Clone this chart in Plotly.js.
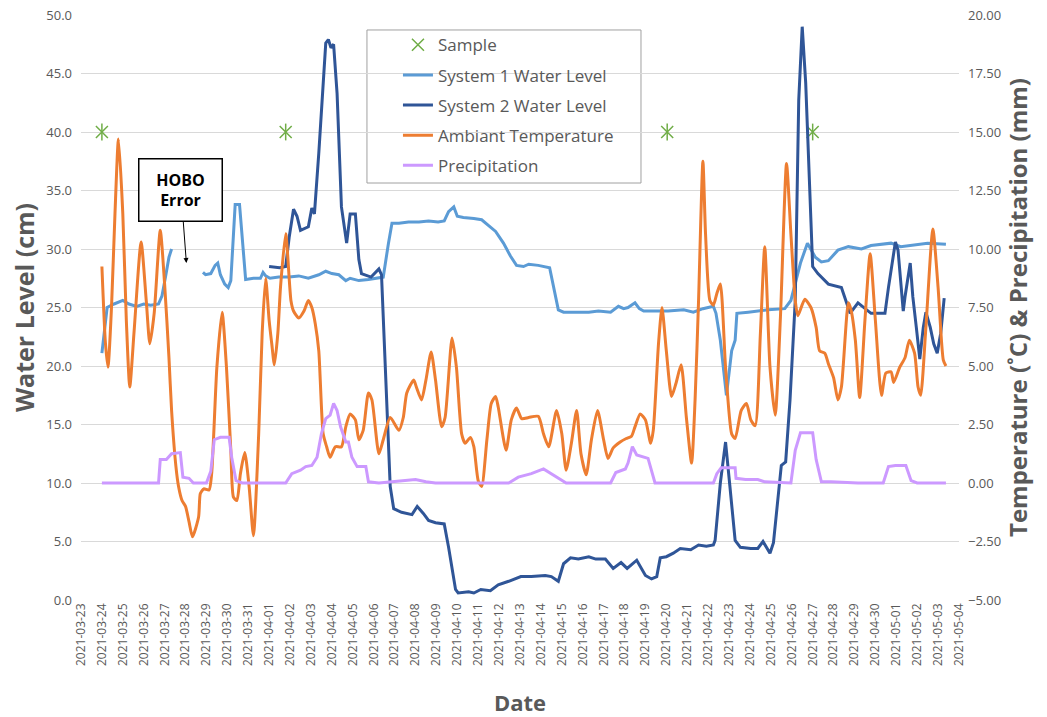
<!DOCTYPE html>
<html>
<head>
<meta charset="utf-8">
<script src="https://cdn.plot.ly/plotly-3.0.1.min.js"></script>
<style>html,body{margin:0;padding:0;background:#fff;}#chart{width:1047px;height:717px;}</style>
</head>
<body>
<div id="chart"></div>
<script>
// Sample events (left axis, cm)
const sampleTime = ['2021-03-24 00','2021-04-01 19','2021-04-20 01','2021-04-27 00'];
const sampleLevel = [40, 40, 40, 40];

// System 1 water level (cm); null = HOBO error gap
const s1Time = ['2021-03-24 00','2021-03-24 06','2021-03-24 14','2021-03-25 00','2021-03-25 07','2021-03-25 16','2021-03-26 00','2021-03-26 08','2021-03-26 17','2021-03-26 21','2021-03-27 01','2021-03-27 05','2021-03-27 08',
'2021-03-28 00',
'2021-03-28 20','2021-03-28 23','2021-03-29 05','2021-03-29 10','2021-03-29 13','2021-03-29 16','2021-03-29 21','2021-03-30 01','2021-03-30 04','2021-03-30 06','2021-03-30 09','2021-03-30 14','2021-03-30 18','2021-03-30 21','2021-03-31 06','2021-03-31 14','2021-03-31 17','2021-03-31 20',
'2021-04-01 01','2021-04-01 11','2021-04-01 23','2021-04-02 10','2021-04-02 21','2021-04-03 09','2021-04-03 17','2021-04-04 00','2021-04-04 08','2021-04-04 16','2021-04-04 21','2021-04-05 07','2021-04-05 18','2021-04-06 06','2021-04-06 11','2021-04-06 17','2021-04-06 21',
'2021-04-07 05','2021-04-07 16','2021-04-08 04','2021-04-08 15','2021-04-09 02','2021-04-09 09','2021-04-09 14','2021-04-09 20','2021-04-10 00','2021-04-10 07','2021-04-10 19','2021-04-11 04','2021-04-11 12','2021-04-11 20','2021-04-12 05','2021-04-12 13','2021-04-12 20','2021-04-13 04','2021-04-13 10','2021-04-13 21','2021-04-14 10','2021-04-14 14','2021-04-14 20',
'2021-04-15 02','2021-04-15 13','2021-04-16 07','2021-04-16 18','2021-04-17 08','2021-04-17 17','2021-04-17 23','2021-04-18 04','2021-04-18 12','2021-04-18 17','2021-04-18 22','2021-04-19 09','2021-04-20 02','2021-04-20 20','2021-04-21 07','2021-04-21 18','2021-04-22 06','2021-04-22 09','2021-04-22 14','2021-04-22 21','2021-04-23 03','2021-04-23 07','2021-04-23 09','2021-04-23 22','2021-04-24 21','2021-04-25 16','2021-04-25 23',
'2021-04-26 10','2021-04-26 18','2021-04-27 03','2021-04-27 10','2021-04-27 18','2021-04-28 05','2021-04-28 17','2021-04-29 08','2021-04-29 19','2021-04-30 18','2021-05-01 05','2021-05-02 04','2021-05-02 12','2021-05-03 09'];
const s1Level = [21.1,25.0,25.3,25.6,25.3,25.1,25.3,25.2,25.3,26.0,27.6,29.3,30.0,
null,
28.0,27.8,27.9,28.6,28.8,27.8,27.0,26.7,27.3,30.0,33.8,33.8,30.0,27.4,27.5,27.5,28.0,27.7,
27.5,27.6,27.6,27.7,27.5,27.8,28.1,27.9,27.8,27.3,27.5,27.3,27.4,27.5,27.6,30.5,32.2,
32.2,32.3,32.3,32.4,32.3,32.4,33.2,33.6,32.8,32.7,32.6,32.5,32.0,31.5,30.5,29.4,28.6,28.5,28.7,28.6,28.4,27.0,24.8,
24.6,24.6,24.6,24.7,24.6,25.1,24.9,25.0,25.4,24.9,24.7,24.7,24.7,24.8,24.6,24.9,25.1,24.5,22.2,17.5,21.3,22.2,24.5,24.6,24.8,24.9,25.6,
28.8,30.5,29.3,28.9,29.0,29.9,30.2,30.0,30.3,30.5,30.2,30.4,30.5,30.4];

// System 2 water level (cm)
const s2Time = ['2021-04-01 00','2021-04-01 12','2021-04-01 19','2021-04-01 23','2021-04-02 04','2021-04-02 08','2021-04-02 12','2021-04-02 17','2021-04-02 21','2021-04-03 01','2021-04-03 04','2021-04-03 09','2021-04-03 12','2021-04-03 17','2021-04-03 20','2021-04-03 23','2021-04-04 02','2021-04-04 06','2021-04-04 11','2021-04-04 17','2021-04-04 21','2021-04-05 03','2021-04-05 07','2021-04-05 10','2021-04-05 21','2021-04-06 06','2021-04-06 09','2021-04-06 15','2021-04-06 19','2021-04-06 23',
'2021-04-07 08','2021-04-07 20','2021-04-08 02','2021-04-08 09','2021-04-08 15','2021-04-08 23','2021-04-09 09','2021-04-09 14','2021-04-09 22','2021-04-10 01','2021-04-10 13','2021-04-10 19','2021-04-11 03','2021-04-11 14','2021-04-11 23','2021-04-12 11','2021-04-13 01','2021-04-13 13','2021-04-14 05','2021-04-14 12','2021-04-14 20',
'2021-04-15 02','2021-04-15 10','2021-04-15 19','2021-04-16 07','2021-04-16 15','2021-04-17 02','2021-04-17 11','2021-04-17 20','2021-04-18 03','2021-04-18 14','2021-04-19 00','2021-04-19 07','2021-04-19 13','2021-04-19 17','2021-04-20 00','2021-04-20 08','2021-04-20 16','2021-04-21 04','2021-04-21 13','2021-04-21 22','2021-04-22 06','2021-04-22 08','2021-04-22 14','2021-04-22 20','2021-04-23 01','2021-04-23 07','2021-04-23 13','2021-04-24 01','2021-04-24 09','2021-04-24 15','2021-04-24 23','2021-04-25 03','2021-04-25 12','2021-04-25 17','2021-04-25 22',
'2021-04-26 04','2021-04-26 08','2021-04-26 12','2021-04-26 16','2021-04-27 00','2021-04-27 06','2021-04-27 18','2021-04-28 09','2021-04-28 15','2021-04-28 19','2021-04-29 04','2021-04-29 12','2021-04-29 19','2021-04-30 11','2021-04-30 15','2021-04-30 23','2021-05-01 02','2021-05-01 08','2021-05-01 10','2021-05-01 16','2021-05-01 19','2021-05-01 23','2021-05-02 03','2021-05-02 07','2021-05-02 10','2021-05-02 15','2021-05-02 19','2021-05-02 23','2021-05-03 03','2021-05-03 07'];
const s2Level = [28.5,28.4,28.5,31.0,33.4,32.8,31.6,31.8,31.9,33.5,33.0,38.2,41.6,47.6,47.9,47.2,47.5,43.3,33.6,30.5,33.0,33.0,29.1,27.9,27.6,28.3,27.8,17.1,9.7,7.8,
7.5,7.3,8.0,7.4,6.8,6.6,6.5,4.5,0.9,0.6,0.7,0.6,0.9,0.8,1.3,1.6,2.0,2.0,2.1,2.0,1.6,
3.1,3.6,3.5,3.7,3.5,3.5,2.7,3.2,2.7,3.4,2.1,1.8,2.0,3.6,3.7,4.0,4.4,4.3,4.7,4.6,4.7,5.1,10.0,13.5,9.7,5.1,4.5,4.4,4.4,5.0,4.0,4.9,11.5,11.8,17.1,
25.6,42.7,49.0,44.2,28.5,27.9,27.0,26.7,25.3,24.5,25.4,24.9,24.5,24.5,26.7,30.6,29.9,24.7,25.9,28.8,25.9,23.3,20.6,23.3,24.6,23.3,21.9,21.1,22.8,25.8];

// Ambient temperature (°C, right axis)
const tempTime = ['2021-03-24 00','2021-03-24 04','2021-03-24 07','2021-03-24 11','2021-03-24 15','2021-03-24 19','2021-03-25 00','2021-03-25 04','2021-03-25 08','2021-03-25 13','2021-03-25 21','2021-03-26 03','2021-03-26 07','2021-03-26 12','2021-03-26 19','2021-03-27 00','2021-03-27 05','2021-03-27 08','2021-03-27 13','2021-03-27 16','2021-03-27 20',
'2021-03-28 00','2021-03-28 04','2021-03-28 08','2021-03-28 15','2021-03-28 17','2021-03-28 21','2021-03-29 03','2021-03-29 06','2021-03-29 12','2021-03-29 18','2021-03-29 23','2021-03-30 04','2021-03-30 07','2021-03-30 11','2021-03-30 15','2021-03-30 20','2021-03-31 01','2021-03-31 06','2021-03-31 12','2021-03-31 16','2021-03-31 20',
'2021-04-01 00','2021-04-01 03','2021-04-01 06','2021-04-01 10','2021-04-01 13','2021-04-01 19','2021-04-02 01','2021-04-02 04','2021-04-02 10','2021-04-02 16','2021-04-02 21','2021-04-03 01','2021-04-03 05','2021-04-03 09','2021-04-03 14','2021-04-03 18','2021-04-03 22','2021-04-04 04','2021-04-04 11','2021-04-04 16','2021-04-04 21','2021-04-05 03','2021-04-05 07','2021-04-05 12','2021-04-05 18','2021-04-05 22','2021-04-06 06','2021-04-06 11','2021-04-06 19',
'2021-04-07 05','2021-04-07 10','2021-04-07 14','2021-04-07 22','2021-04-08 01','2021-04-08 07','2021-04-08 12','2021-04-08 18','2021-04-08 23','2021-04-09 06','2021-04-09 10','2021-04-09 18','2021-04-09 23','2021-04-10 05','2021-04-10 09','2021-04-10 15','2021-04-10 19','2021-04-11 00','2021-04-11 04','2021-04-11 10','2021-04-11 15','2021-04-11 20','2021-04-11 23','2021-04-12 08','2021-04-12 14','2021-04-12 20','2021-04-13 02','2021-04-13 10','2021-04-13 21','2021-04-14 03','2021-04-14 09','2021-04-14 18',
'2021-04-15 00','2021-04-15 05','2021-04-15 11','2021-04-15 17','2021-04-15 22','2021-04-16 04','2021-04-16 10','2021-04-16 17','2021-04-17 00','2021-04-17 05','2021-04-17 11','2021-04-17 19','2021-04-18 02','2021-04-18 08','2021-04-18 12','2021-04-18 18','2021-04-19 00','2021-04-19 06','2021-04-19 09','2021-04-19 15','2021-04-19 19','2021-04-20 00','2021-04-20 06','2021-04-20 11','2021-04-20 17','2021-04-20 23','2021-04-21 05','2021-04-21 09','2021-04-21 13','2021-04-21 18','2021-04-21 21',
'2021-04-22 02','2021-04-22 06','2021-04-22 10','2021-04-22 14','2021-04-22 20','2021-04-23 03','2021-04-23 07','2021-04-23 14','2021-04-23 20','2021-04-24 01','2021-04-24 06','2021-04-24 12','2021-04-24 17','2021-04-24 23','2021-04-25 05','2021-04-25 11','2021-04-25 18','2021-04-25 23','2021-04-26 04','2021-04-26 07','2021-04-26 15','2021-04-26 22','2021-04-27 04','2021-04-27 08','2021-04-27 14','2021-04-27 18',
'2021-04-28 00','2021-04-28 05','2021-04-28 09','2021-04-28 17','2021-04-28 20','2021-04-29 01','2021-04-29 06','2021-04-29 12','2021-04-29 18','2021-04-30 00','2021-04-30 07','2021-04-30 12','2021-04-30 18','2021-04-30 21','2021-05-01 04','2021-05-01 10','2021-05-01 15','2021-05-01 21','2021-05-02 01','2021-05-02 04','2021-05-02 10','2021-05-02 18','2021-05-03 00','2021-05-03 06','2021-05-03 09'];
const tempValue = [9.25,6.0,4.95,7.5,11.5,14.7,11.5,7.0,4.1,6.5,10.3,7.75,5.95,7.25,10.8,8.5,5.35,3.1,0.7,-0.15,-0.75,
-1.0,-1.65,-2.3,-1.45,-0.45,-0.25,-0.3,0.4,4.95,7.3,4.95,1.4,-0.6,-0.75,0.4,1.3,-0.15,-2.25,2.1,6.4,8.75,
6.95,5.95,5.05,6.4,8.35,10.65,7.8,7.35,7.05,7.35,7.8,7.5,6.8,5.65,2.1,1.55,1.1,1.55,1.55,2.4,2.95,2.7,1.85,2.25,3.85,3.55,1.25,1.85,2.8,
2.25,2.8,3.85,4.4,4.1,3.55,4.4,5.6,4.4,2.4,2.8,6.2,4.95,2.1,1.7,1.95,1.55,0.1,-0.15,1.85,3.4,3.7,3.25,1.4,2.7,3.2,2.75,2.8,2.85,2.1,1.55,3.1,
2.1,0.55,1.7,3.1,1.25,0.35,1.85,3.1,1.85,1.05,1.5,1.75,1.9,2.0,2.4,2.95,2.7,1.7,2.25,5.95,7.5,5.65,3.7,4.25,5.05,2.8,0.85,3.55,7.8,13.75,10.65,
7.8,7.6,8.1,8.5,4.95,2.1,1.9,3.1,3.4,2.7,2.45,6.4,10.1,4.95,2.9,7.1,13.65,10.65,7.8,7.15,7.85,7.5,6.65,5.65,5.55,5.1,
4.5,3.55,4.1,7.7,7.4,6.1,3.65,6.95,9.8,6.95,3.75,4.7,4.75,4.3,4.95,5.35,6.1,5.55,4.1,3.75,6.65,10.85,8.35,5.25,5.0];

// Precipitation (mm, right axis)
const precipTime = ['2021-03-24 00','2021-03-26 17','2021-03-26 19','2021-03-27 02','2021-03-27 08','2021-03-27 18','2021-03-27 21','2021-03-28 04','2021-03-28 09','2021-03-29 00','2021-03-29 05','2021-03-29 09','2021-03-29 16','2021-03-30 02','2021-03-30 05','2021-03-30 10','2021-03-30 17',
'2021-04-01 19','2021-04-02 02','2021-04-02 12','2021-04-02 18','2021-04-03 01','2021-04-03 07','2021-04-03 12','2021-04-03 17','2021-04-03 22','2021-04-04 02','2021-04-04 06','2021-04-04 10','2021-04-04 16','2021-04-04 19','2021-04-04 23','2021-04-05 05','2021-04-05 15','2021-04-05 18','2021-04-06 06','2021-04-08 00','2021-04-08 12','2021-04-08 23',
'2021-04-12 11','2021-04-12 22','2021-04-13 13','2021-04-14 03','2021-04-14 12','2021-04-14 20','2021-04-15 05','2021-04-17 08','2021-04-17 14','2021-04-18 01','2021-04-18 04','2021-04-18 09','2021-04-18 14','2021-04-19 03','2021-04-19 11',
'2021-04-22 06','2021-04-22 10','2021-04-22 15','2021-04-23 07','2021-04-23 08','2021-04-23 19','2021-04-24 09','2021-04-24 17','2021-04-25 23','2021-04-26 04','2021-04-26 10','2021-04-27 00','2021-04-27 04','2021-04-27 10','2021-04-27 21','2021-04-29 04','2021-04-30 09','2021-04-30 15','2021-04-30 23','2021-05-01 11','2021-05-01 17','2021-05-02 00','2021-05-03 09'];
const precipValue = [0,0,1.0,1.0,1.25,1.3,0.25,0.2,0,0,0.5,1.85,1.95,1.95,1.1,0.1,0,
0,0.4,0.55,0.7,0.75,1.1,2.1,2.75,2.9,3.4,3.1,2.4,1.75,1.75,1.1,0.7,0.7,0.05,0,0.15,0.05,0,
0,0.25,0.4,0.6,0.4,0.2,0,0,0.45,0.6,0.85,1.55,1.2,1.05,0,
0,0.4,0.65,0.65,0.2,0.15,0.15,0.05,0,1.4,2.15,2.15,1.0,0.05,0.05,0,0,0.7,0.75,0.75,0.1,0,0];

const FONT = 'Open Sans, sans-serif';
const GREY = '#595959';

const traces = [
  {x: sampleTime, y: sampleLevel, name: 'Sample', type: 'scatter', mode: 'markers', legendgroup: 'g1',
   marker: {symbol: 'x-thin-open', size: 12, color: '#70AD47', line: {color: '#70AD47', width: 1.5}}},
  {x: sampleTime, y: sampleLevel, name: 'Sample', type: 'scatter', mode: 'markers', showlegend: false, legendgroup: 'g1',
   marker: {symbol: 'line-ns-open', size: 12, color: '#70AD47', line: {color: '#70AD47', width: 1.5}}},
  {x: s1Time, y: s1Level, name: 'System 1 Water Level', type: 'scatter', mode: 'lines', legendgroup: 'g2',
   connectgaps: false, line: {color: '#5B9BD5', width: 3}},
  {x: s2Time, y: s2Level, name: 'System 2 Water Level', type: 'scatter', mode: 'lines', legendgroup: 'g3',
   line: {color: '#2F5597', width: 3}},
  {x: tempTime, y: tempValue, name: 'Ambiant Temperature', type: 'scatter', mode: 'lines', yaxis: 'y2', legendgroup: 'g4',
   line: {color: '#ED7D31', width: 3, shape: 'spline', smoothing: 0.6}},
  {x: precipTime, y: precipValue, name: 'Precipitation', type: 'scatter', mode: 'lines', yaxis: 'y2', legendgroup: 'g5',
   line: {color: '#CC99FF', width: 3}}
];

const layout = {
  width: 1047, height: 717,
  margin: {l: 81, r: 88, t: 15, b: 117},
  paper_bgcolor: '#ffffff', plot_bgcolor: '#ffffff',
  font: {family: FONT, color: GREY},
  showlegend: true,
  legend: {x: 0.361, xanchor: 'left', y: 0.979, yanchor: 'top', bgcolor: 'rgba(0,0,0,0)', borderwidth: 0,
           font: {size: 17, color: GREY, family: FONT}, traceorder: 'grouped', tracegroupgap: 5},
  xaxis: {type: 'date', range: ['2021-03-23', '2021-05-04'], tick0: '2021-03-23', dtick: 86400000,
          tickformat: '%Y-%m-%d', tickangle: -90, showgrid: false, zeroline: false, showline: false, ticks: '',
          tickfont: {size: 12, color: GREY, family: FONT},
          title: {text: '<b>Date</b>', font: {size: 22, color: GREY, family: FONT}, standoff: 30}},
  yaxis: {range: [0, 50], dtick: 5, tick0: 0, tickformat: '.1f', gridcolor: '#D9D9D9', gridwidth: 1,
          zeroline: false, showline: false, ticks: '', ticklabelstandoff: 8,
          tickfont: {size: 13, color: GREY, family: FONT},
          title: {text: '<b>Water Level (cm)</b>', font: {size: 25, color: GREY, family: FONT}, standoff: 4}},
  yaxis2: {overlaying: 'y', side: 'right', range: [-5, 20], dtick: 2.5, tick0: 0, tickformat: '.2f',
           showgrid: false, zeroline: false, showline: false, ticks: '', ticklabelstandoff: 8,
           tickfont: {size: 13, color: GREY, family: FONT},
           title: {text: '<b>Temperature (˚C) & Precipitation (mm)</b>', font: {size: 24, color: GREY, family: FONT}, standoff: 8}},
  shapes: [
    {type: 'rect', xref: 'paper', yref: 'paper', x0: 0.3257, x1: 0.6378, y0: 0.7128, y1: 0.9744,
     fillcolor: '#ffffff', line: {color: '#A0A0A0', width: 1}, layer: 'between'}
  ],
  annotations: [
    {x: '2021-03-28 01', y: 28.8, xref: 'x', yref: 'y', text: '<b>HOBO<br>Error</b>',
     showarrow: true, ax: -5.5, ay: -73, arrowhead: 2, arrowsize: 1, arrowwidth: 1, arrowcolor: '#000000',
     font: {size: 16, color: '#000000', family: FONT}, bgcolor: '#ffffff', bordercolor: '#000000',
     borderwidth: 1.5, borderpad: 1, width: 80, height: 59, standoff: 0}
  ]
};

Plotly.newPlot('chart', traces, layout, {displayModeBar: false, staticPlot: true});
</script>
</body>
</html>
